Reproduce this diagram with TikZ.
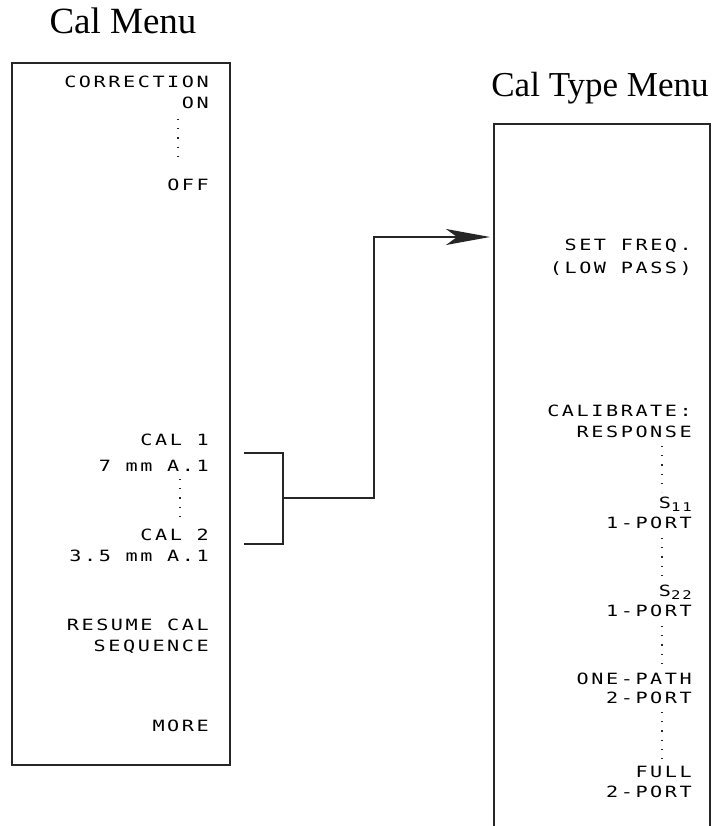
\documentclass[tikz,border=0pt]{standalone}
\usepackage{fontspec}
\usepackage{graphicx}
\setmainfont{Liberation Serif}
\newfontfamily\menufont[LetterSpace=12.8]{DejaVu Sans Mono}
\usetikzlibrary{arrows.meta}
\newcommand\mt[1]{\scalebox{1.3}[1]{#1}}
\newcommand\subsc[1]{{\fontsize{12}{12}\selectfont\raisebox{-3.5pt}{#1}}}
\tikzset{
  mtext/.style={anchor=base east, inner sep=0pt, text=black,
    font=\menufont\fontsize{15.5}{15.5}\selectfont},
  ttl/.style={anchor=base, inner sep=0pt, font=\fontsize{37}{37}\selectfont},
  ttlb/.style={anchor=base, inner sep=0pt, font=\fontsize{35}{35}\selectfont},
  frame/.style={line width=1.8pt, black!85},
  dotline/.style={line width=1.2pt, black!85, dash pattern=on 1.2pt off 8pt},
  conn/.style={line width=1.8pt, black!85},
}
\begin{document}
\begin{tikzpicture}[x=1pt,y=-1pt]
\useasboundingbox (0,0) rectangle (720,826);
% titles
\node[ttl] (t1) at (123,34) {Cal Menu};
\node[ttlb] (t2) at (600,97) {Cal Type Menu};
% frames
\draw[frame] (12,63) rectangle (230,765);
\draw[frame] (494,826) -- (494,124) -- (710,124) -- (710,826);
% left menu
\node[mtext] (corr) at (209,88) {\mt{CORRECTION}};
\node[mtext] (on) at (209,109) {\mt{ON}};
\node[mtext] (off) at (209,191) {\mt{OFF}};
\node[mtext] (cal1) at (209,445) {\mt{CAL 1}};
\node[mtext] (cal1b) at (209,471) {\mt{7 mm A.1}};
\node[mtext] (cal2) at (209,540) {\mt{CAL 2}};
\node[mtext] (cal2b) at (209,561) {\mt{3.5 mm A.1}};
\node[mtext] (res1) at (209,630) {\mt{RESUME CAL}};
\node[mtext] (res2) at (209,651) {\mt{SEQUENCE}};
\node[mtext] (more) at (209,731) {\mt{MORE}};
\draw[dotline] (178,119) -- (178,162);
\draw[dotline] (180,479) -- (180,522);
% right menu
\node[mtext] (sf1) at (692,251) {\mt{SET FREQ.}};
\node[mtext] (sf2) at (692,273) {\mt{(LOW PASS)}};
\node[mtext] (cb1) at (692,416) {\mt{CALIBRATE:}};
\node[mtext] (cb2) at (692,437) {\mt{RESPONSE}};
\node[mtext] (s11) at (692,508) {\mt{S\subsc{11}}};
\node[mtext] (s11b) at (692,528) {\mt{1-PORT}};
\node[mtext] (s22) at (692,596) {\mt{S\subsc{22}}};
\node[mtext] (s22b) at (692,616) {\mt{1-PORT}};
\node[mtext] (op1) at (692,684) {\mt{ONE-PATH}};
\node[mtext] (op2) at (692,703) {\mt{2-PORT}};
\node[mtext] (fu1) at (692,777) {\mt{FULL}};
\node[mtext] (fu2) at (692,797) {\mt{2-PORT}};
\draw[dotline] (662,446) -- (662,492);
\draw[dotline] (662,538) -- (662,582);
\draw[dotline] (662,626) -- (662,668);
\draw[dotline] (662,712) -- (662,760);
% bracket and arrow
\coordinate (b1) at (244,453);
\coordinate (b2) at (244,544);
\coordinate (bm) at (283,498);
\coordinate (tip) at (490,237);
\draw[conn] (b1) -- (283,453) -- (283,544) -- (b2);
\draw[conn, -{Stealth[length=44pt,width=16pt,inset=11pt]}] (bm) -- (374,498) -- (374,237) -- (tip);
\end{tikzpicture}
\end{document}
